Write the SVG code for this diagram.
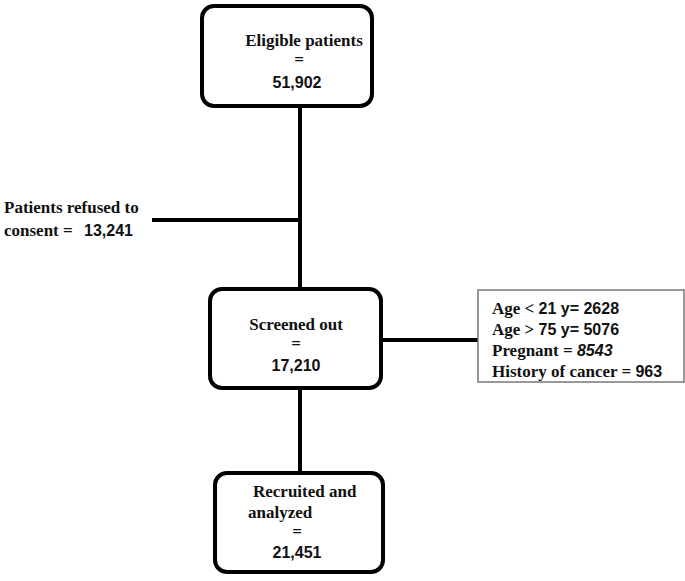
<svg xmlns="http://www.w3.org/2000/svg" width="685" height="581" viewBox="0 0 685 581">
<style>
.box{fill:#fff;stroke:#000;stroke-width:4}
.s{font-family:"Liberation Serif",serif;font-weight:bold;font-size:17px;fill:#111}
.n{font-family:"Liberation Sans",sans-serif;font-weight:bold;font-size:16px;fill:#111}
.c{stroke:#000;stroke-width:4;fill:none}
</style>
<rect width="685" height="581" fill="#fff"/>
<g id="connectors">
<line class="c" x1="300" y1="106" x2="300" y2="289"/>
<line class="c" x1="152" y1="220" x2="300" y2="220"/>
<line class="c" x1="300" y1="388" x2="300" y2="473"/>
<line class="c" x1="381" y1="340" x2="478" y2="340"/>
</g>
<g id="eligible">
<rect class="box" x="202" y="6" width="170" height="100" rx="12"/>
<text class="s" x="304" y="46" text-anchor="middle">Eligible patients</text>
<text class="s" x="299" y="65" text-anchor="middle">=</text>
<text class="n" x="297" y="88" text-anchor="middle" font-size="17">51,902</text>
</g>
<g id="refused">
<text class="s" x="4" y="213" font-size="18">Patients refused to</text>
<text class="s" x="4" y="236" font-size="18">consent =</text>
<text class="n" x="84" y="236" font-size="17">13,241</text>
</g>
<g id="screened">
<rect class="box" x="210" y="289" width="171" height="99" rx="12"/>
<text class="s" x="296" y="330" text-anchor="middle">Screened out</text>
<text class="s" x="296" y="349" text-anchor="middle">=</text>
<text class="n" x="296" y="371" text-anchor="middle" font-size="17">17,210</text>
</g>
<g id="reasons">
<rect x="478" y="290" width="206" height="92" fill="#fff" stroke="#777" stroke-width="1.5"/>
<text class="s" x="492" y="314" font-size="18">Age &lt; <tspan class="n" font-size="19">21 y</tspan><tspan class="n" font-size="13">= 2628</tspan></text>
<text class="s" x="492" y="335" font-size="18">Age &gt; <tspan class="n" font-size="19">75 y</tspan><tspan class="n" font-size="13">= 5076</tspan></text>
<text class="s" x="492" y="356" font-size="18">Pregnant =  <tspan class="n" font-size="13" font-style="italic">8543</tspan></text>
<text class="s" x="492" y="377" font-size="18">History of cancer = <tspan class="n" font-size="14">963</tspan></text>
</g>
<g id="recruited">
<rect class="box" x="215" y="473" width="168" height="99" rx="12"/>
<text class="s" x="253" y="497">Recruited and</text>
<text class="s" x="248" y="518">analyzed</text>
<text class="s" x="297" y="537" text-anchor="middle">=</text>
<text class="n" x="297" y="558" text-anchor="middle" font-size="17">21,451</text>
</g>
</svg>
